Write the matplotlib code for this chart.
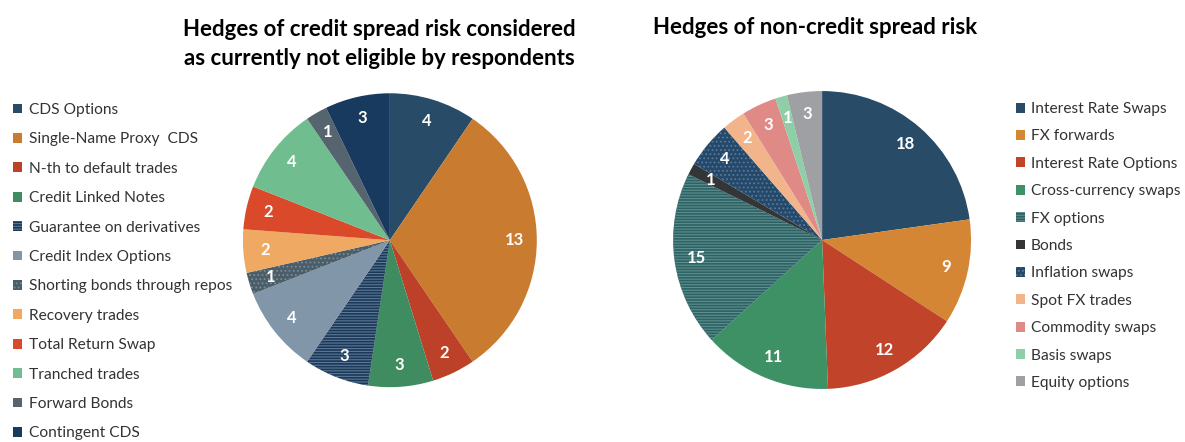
import matplotlib.pyplot as plt

plt.rcParams['font.family'] = ['Lato', 'DejaVu Sans']
plt.rcParams['hatch.linewidth'] = 0.8

credit_labels = ["CDS Options", "Single-Name Proxy  CDS", "N-th to default trades",
                 "Credit Linked Notes", "Guarantee on derivatives", "Credit Index Options",
                 "Shorting bonds through repos", "Recovery trades", "Total Return Swap",
                 "Tranched trades", "Forward Bonds", "Contingent CDS"]
credit_values = [4, 13, 2, 3, 3, 4, 1, 2, 2, 4, 1, 3]
credit_colors = ["#284b68", "#c97b2f", "#bc4128", "#3e8c5f", "#1c3858", "#8196a9",
                 "#4a5d69", "#f0a962", "#d9492a", "#70be8f", "#56646f", "#173a5e"]
credit_hatch = [None, None, None, None, "------", None, "....", None, None, None, None, None]
credit_hatch_col = [None, None, None, None, "#5b7896", None, "#7a8c96", None, None, None, None, None]

other_labels = ["Interest Rate Swaps", "FX forwards", "Interest Rate Options",
                "Cross-currency swaps", "FX options", "Bonds", "Inflation swaps",
                "Spot FX trades", "Commodity swaps", "Basis swaps", "Equity options"]
other_values = [18, 9, 12, 11, 15, 1, 4, 2, 3, 1, 3]
other_colors = ["#284b68", "#d48634", "#c0432a", "#3e9164", "#2c6266", "#333537",
                "#24496b", "#f2b48b", "#e08a87", "#8fcfa8", "#9ea0a4"]
other_hatch = [None, None, None, None, "------", None, "....", None, None, None, None]
other_hatch_col = [None, None, None, None, "#5f8f8c", None, "#5a7896", None, None, None, None]


def draw_pie(ax, values, colors, hatches, hatch_cols):
    wedges, texts = ax.pie(values, colors=colors, startangle=90, counterclock=False,
                           labels=[str(v) for v in values], labeldistance=0.85,
                           wedgeprops=dict(linewidth=0),
                           textprops=dict(color="white", fontweight="bold", fontsize=12,
                                          ha="center", va="center"))
    for w, h, hc in zip(wedges, hatches, hatch_cols):
        if h:
            w.set_hatch(h)
            w.set_edgecolor(hc)
            w.set_linewidth(0)
    ax.set_xlim(-1, 1)
    ax.set_ylim(-1, 1)
    ax.set_aspect("equal")
    return wedges


fig = plt.figure(figsize=(11.85, 4.42), dpi=100)

ax1 = fig.add_axes([0.205, 0.124, 0.248, 0.665])
w1 = draw_pie(ax1, credit_values, credit_colors, credit_hatch, credit_hatch_col)

ax2 = fig.add_axes([0.568, 0.12, 0.2515, 0.674])
w2 = draw_pie(ax2, other_values, other_colors, other_hatch, other_hatch_col)

fig.text(0.32, 0.9, "Hedges of credit spread risk considered\nas currently not eligible by respondents",
         ha="center", va="center", fontsize=16, fontweight="bold", linespacing=1.45)
fig.text(0.688, 0.937, "Hedges of non-credit spread risk",
         ha="center", va="center", fontsize=16, fontweight="bold")

leg_kw = dict(frameon=False, fontsize=11.2, handlelength=0.6, handleheight=0.6,
              handletextpad=0.4, borderaxespad=0, borderpad=0, labelcolor="#333333")
fig.legend(w1, credit_labels, loc="upper left", bbox_to_anchor=(0.011, 0.767),
           labelspacing=0.99, **leg_kw)
fig.legend(w2, other_labels, loc="upper left", bbox_to_anchor=(0.857, 0.769),
           labelspacing=0.86, **leg_kw)

fig.savefig("out.png", dpi=100)
